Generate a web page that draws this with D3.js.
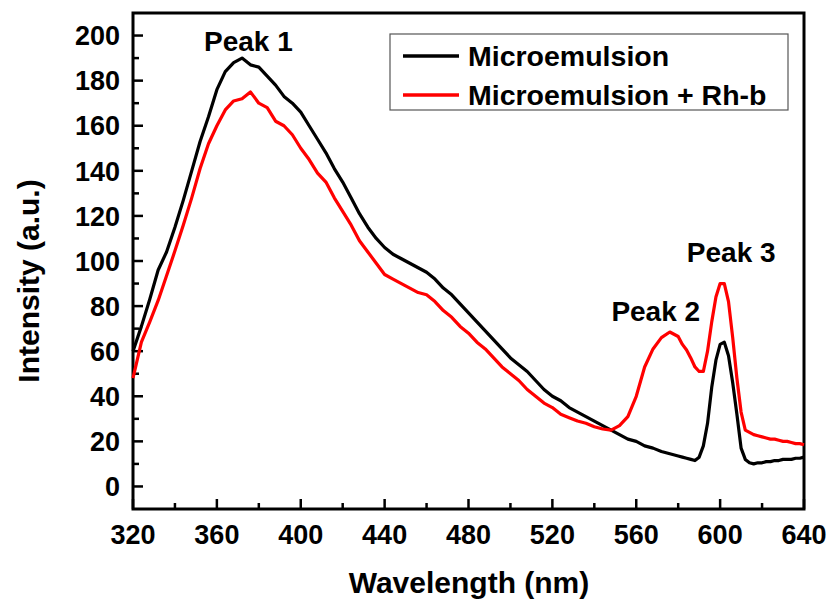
<!DOCTYPE html>
<html>
<head>
<meta charset="utf-8">
<script src="https://cdn.jsdelivr.net/npm/d3@7"></script>
<style>
  html, body { margin: 0; padding: 0; background: #fff; }
  svg { display: block; }
  text { font-family: Arial, "Liberation Sans", sans-serif; font-weight: bold; fill: #000; }
</style>
</head>
<body>
<svg id="chart" width="831" height="600"></svg>
<script>
// ---- Data ----
const wavelength = [
  320,324,328,332,336,340,344,348,352,356,360,364,368,372,376,380,384,388,392,396,
  400,404,408,412,416,420,424,428,432,436,440,444,448,452,456,460,464,468,472,476,
  480,484,488,492,496,500,504,508,512,516,520,524,528,532,536,540,544,548,552,556,
  560,564,568,572,576,580,582,584,586,588,590,592,594,596,598,600,602,604,606,608,
  610,612,614,616,618,620,622,624,626,628,630,632,634,636,638,640
];
const microemulsion = [
  60,71,83,96,104,115,127,140,153,164,176,184,188,190,187,186,182,178,173,170,
  166,160,154,148,141,135,128,121,115,110,106,103,101,99,97,95,92,88,85,81,
  77,73,69,65,61,57,54,51,47,43,40,38,35,33,31,29,27,25,23,21,
  20,18,17,15.5,14.5,13.5,13,12.5,12,11.5,13,18,28,44,56,63,64,58,46,32,
  17,12,10.5,10,10.5,10.5,11,11,11.5,11.5,12,12,12,12.5,12.5,13
];
const microemulsionRhB = [
  48,64,73,82.5,93.5,104.5,116,128,141,152,160,167,171,172,175,170,168,162,160,156,
  150,145,139,135,128,122,116,109,104,99,94,92,90,88,86,85,82,78,75,71,
  68,64,61,57,53,50,47,43,40,37,35,32,30.5,29,28,26.5,25.5,25,27,31,
  40,53,61,66,68.5,66.5,63,60.5,57,53,51,51,60,73,84,90,90,82,66,48,
  33,25,24,23,22.5,22,21.5,21,21,20.5,20,20,19.5,19,19,18.5
];
const seriesNames = ["Microemulsion", "Microemulsion + Rh-b"];
const seriesColors = ["#000000", "#ff0000"];
const xTicks = [320,360,400,440,480,520,560,600,640];
const yTicks = [0,20,40,60,80,100,120,140,160,180,200];
const peakLabels = [
  {text: "Peak 1", x: 375, y: 193},
  {text: "Peak 2", x: 569.3, y: 73.5},
  {text: "Peak 3", x: 605.3, y: 99.7}
];

// ---- Layout ----
const svg = d3.select("#chart");
const pLeft = 133, pRight = 804, pTop = 13, pBottom = 509;
const x = d3.scaleLinear().domain([320, 640]).range([pLeft, pRight]);
const y = d3.scaleLinear().domain([-10, 210]).range([pBottom, pTop]);

// X axis (ticks inside)
const gx = svg.append("g").attr("transform", `translate(0,${pBottom})`);
gx.selectAll("line.tk").data(x.ticks(16)).enter().append("line")
  .attr("x1", d => x(d)).attr("x2", d => x(d))
  .attr("y1", 0).attr("y2", d => (d % 40 === 0 ? -10 : -6))
  .attr("stroke", "#000").attr("stroke-width", 2.5);
gx.selectAll("text").data(xTicks).enter().append("text")
  .attr("x", d => x(d)).attr("y", 35)
  .attr("text-anchor", "middle").attr("font-size", 27).text(d => d);

// Y axis (ticks inside)
const gy = svg.append("g").attr("transform", `translate(${pLeft},0)`);
gy.selectAll("line.tk").data(d3.range(0, 201, 10)).enter().append("line")
  .attr("y1", d => y(d)).attr("y2", d => y(d))
  .attr("x1", 0).attr("x2", d => (d % 20 === 0 ? 10 : 6))
  .attr("stroke", "#000").attr("stroke-width", 2.5);
gy.selectAll("text").data(yTicks).enter().append("text")
  .attr("x", -13).attr("y", d => y(d)).attr("dy", "0.36em")
  .attr("text-anchor", "end").attr("font-size", 27).text(d => d);

// Frame
svg.append("rect").attr("x", pLeft).attr("y", pTop)
  .attr("width", pRight - pLeft).attr("height", pBottom - pTop)
  .attr("fill", "none").attr("stroke", "#000").attr("stroke-width", 3);

// Lines
const line = vals => d3.line()
  .x((d, i) => x(wavelength[i]))
  .y(d => y(d))(vals);
[microemulsion, microemulsionRhB].forEach((vals, k) => {
  svg.append("path").attr("d", line(vals))
    .attr("fill", "none").attr("stroke", seriesColors[k])
    .attr("stroke-width", 3.2).attr("stroke-linejoin", "round");
});

// Peak labels
svg.selectAll("text.peak").data(peakLabels).enter().append("text")
  .attr("class", "peak")
  .attr("x", d => x(d.x)).attr("y", d => y(d.y))
  .attr("text-anchor", "middle").attr("font-size", 28).text(d => d.text);

// Legend
const lg = svg.append("g");
lg.append("rect").attr("x", 390).attr("y", 34).attr("width", 398).attr("height", 76)
  .attr("fill", "#fff").attr("stroke", "#555").attr("stroke-width", 1.2);
seriesNames.forEach((name, k) => {
  const yy = 56 + k * 39;
  lg.append("line").attr("x1", 403).attr("x2", 459).attr("y1", yy).attr("y2", yy)
    .attr("stroke", seriesColors[k]).attr("stroke-width", 3.5);
  lg.append("text").attr("x", 468).attr("y", yy + 10)
    .attr("font-size", 28.5).text(name);
});

// Axis titles
svg.append("text").attr("x", 469).attr("y", 593)
  .attr("text-anchor", "middle").attr("font-size", 30).text("Wavelength (nm)");
svg.append("text").attr("transform", "translate(39,281) rotate(-90)")
  .attr("text-anchor", "middle").attr("font-size", 30).text("Intensity (a.u.)");
</script>
</body>
</html>
